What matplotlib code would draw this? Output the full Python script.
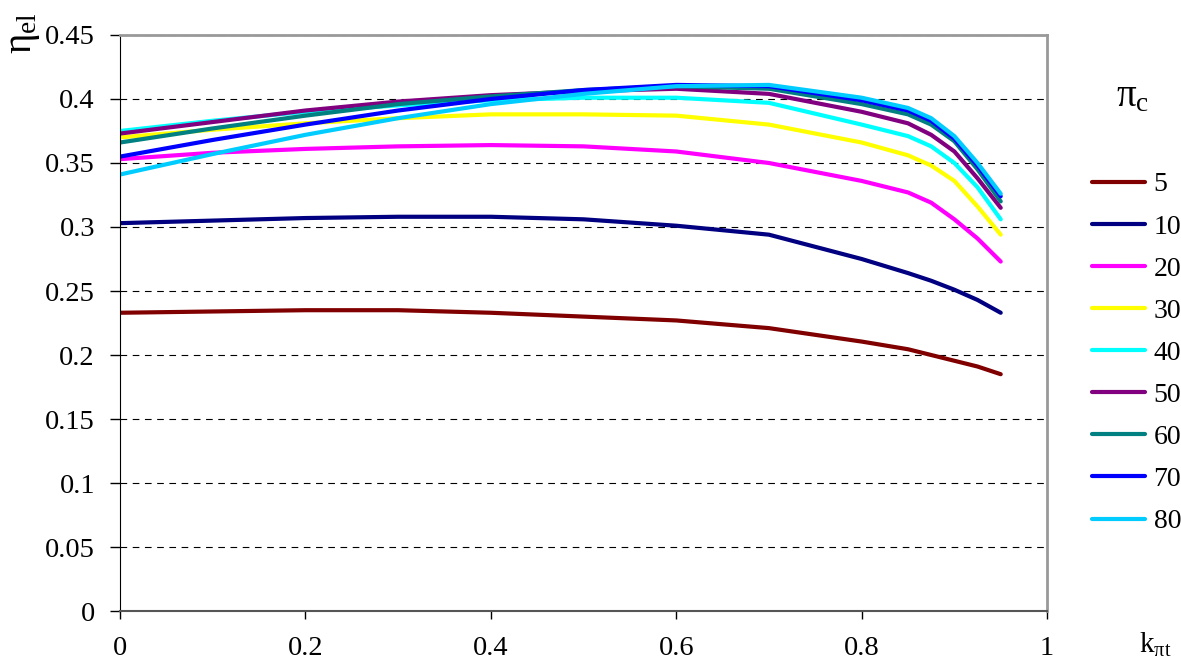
import numpy as np
import matplotlib
matplotlib.use("Agg")
import matplotlib.pyplot as plt

plt.rcParams['font.family'] = ['Liberation Serif', 'DejaVu Serif']
plt.rcParams['mathtext.fontset'] = 'stix'

# === data ===
k_pt = [0.0, 0.1, 0.2, 0.3, 0.4, 0.5, 0.6, 0.7, 0.8, 0.85, 0.875, 0.9, 0.925, 0.95]

pi_c = ["5", "10", "20", "30", "40", "50", "60", "70", "80"]

eta_5  = [0.233, 0.234, 0.235, 0.235, 0.233, 0.230, 0.227, 0.221, 0.2105, 0.2045, 0.200, 0.1955, 0.191, 0.185]
eta_10 = [0.303, 0.305, 0.307, 0.308, 0.308, 0.306, 0.301, 0.294, 0.275, 0.264, 0.258, 0.251, 0.243, 0.233]
eta_20 = [0.353, 0.358, 0.361, 0.363, 0.364, 0.363, 0.359, 0.350, 0.336, 0.327, 0.319, 0.306, 0.291, 0.273]
eta_30 = [0.370, 0.376, 0.381, 0.385, 0.388, 0.388, 0.387, 0.380, 0.366, 0.356, 0.348, 0.336, 0.316, 0.294]
eta_40 = [0.375, 0.383, 0.390, 0.395, 0.399, 0.401, 0.401, 0.397, 0.380, 0.371, 0.363, 0.350, 0.331, 0.306]
eta_50 = [0.373, 0.382, 0.391, 0.398, 0.403, 0.406, 0.408, 0.404, 0.390, 0.381, 0.372, 0.359, 0.338, 0.315]
eta_60 = [0.366, 0.377, 0.387, 0.396, 0.402, 0.407, 0.410, 0.408, 0.396, 0.388, 0.380, 0.367, 0.345, 0.320]
eta_70 = [0.355, 0.368, 0.380, 0.391, 0.400, 0.407, 0.411, 0.410, 0.399, 0.391, 0.383, 0.369, 0.348, 0.324]
eta_80 = [0.341, 0.357, 0.372, 0.385, 0.396, 0.404, 0.410, 0.411, 0.401, 0.393, 0.385, 0.371, 0.350, 0.326]

series = [eta_5, eta_10, eta_20, eta_30, eta_40, eta_50, eta_60, eta_70, eta_80]
colors = ['#800000', '#000080', '#FF00FF', '#FFFF00', '#00FFFF',
          '#800080', '#008080', '#0000FF', '#00CCFF']

fig = plt.figure(figsize=(11.81, 6.64), dpi=100)
ax = fig.add_axes([0.1016, 0.0798, 0.7850, 0.8675])

for vals, c, lab in zip(series, colors, pi_c):
    ax.plot(k_pt, vals, color=c, lw=3, label=lab, solid_capstyle='round',
            solid_joinstyle='round')

ax.set_xlim(0, 1)
ax.set_ylim(0, 0.45)
ax.set_xticks(np.arange(0, 1.01, 0.2))
ax.set_xticklabels(['0', '0.2', '0.4', '0.6', '0.8', '1'])
ax.set_yticks(np.arange(0, 0.451, 0.05))
ax.set_yticklabels(['0', '0.05', '0.1', '0.15', '0.2', '0.25', '0.3', '0.35', '0.4', '0.45'])
ax.tick_params(axis='both', labelsize=20.5, direction='out', width=1, colors='black')
ax.tick_params(axis='x', length=6, pad=12)
ax.tick_params(axis='y', length=7, pad=11)
ax.yaxis.grid(True, linestyle=(0, (6, 5)), color='black', lw=0.8)
ax.set_axisbelow(True)

ax.spines['left'].set_color('black')
ax.spines['bottom'].set_color('#555555')
ax.spines['bottom'].set_linewidth(1.5)
for s in ['top', 'right']:
    ax.spines[s].set_color('#999999')
    ax.spines[s].set_linewidth(2)

# axis titles and legend title, upright greek like the original
fig.text(0.02, 0.95, r'$\mathregular{η_{el}}$', rotation=90, fontsize=28,
         ha='center', va='center')
fig.text(0.978, 0.029, r'$\mathregular{k_{πt}}$', fontsize=21, ha='center', va='center')
fig.text(0.959, 0.854, r'$\mathregular{π_{c}}$', fontsize=28, ha='center', va='center')

ax.legend(loc='upper left', bbox_to_anchor=(0.925, 0.741), bbox_transform=fig.transFigure,
          frameon=False, fontsize=20, handlelength=1.9, labelspacing=0.6,
          handletextpad=0.3, borderpad=0, borderaxespad=0)

fig.savefig('out.png', dpi=100)
